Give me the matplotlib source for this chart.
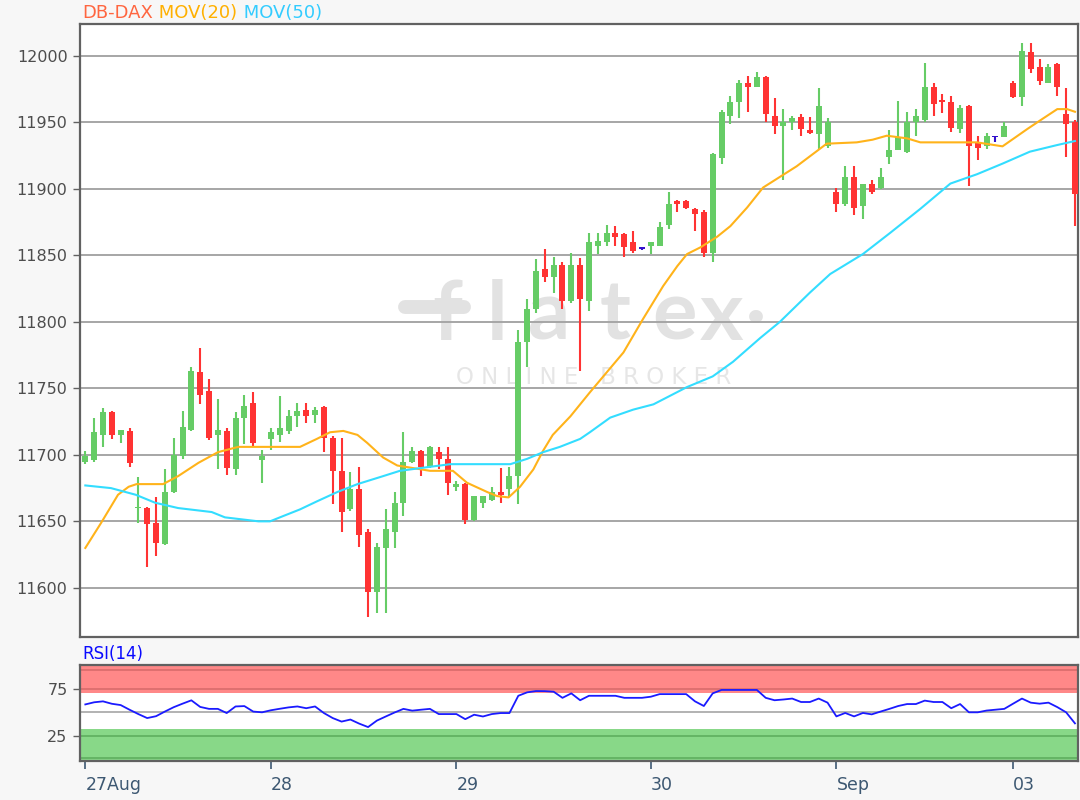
import matplotlib
matplotlib.use("Agg")
import matplotlib.pyplot as plt
import numpy as np

# OHLC candles, one per bar
opens = [11695, 11696, 11715, 11732, 11715, 11718, 11660, 11660, 11649, 11633,
         11672, 11699, 11719, 11762, 11748, 11715, 11718, 11689, 11728, 11739,
         11696, 11712, 11715, 11718, 11729, 11734, 11730, 11736, 11713, 11688,
         11659, 11674, 11642, 11597, 11630, 11642, 11664, 11695, 11703, 11691,
         11702, 11697, 11676, 11678, 11651, 11664, 11666, 11672, 11674, 11684,
         11785, 11810, 11840, 11834, 11843, 11816, 11843, 11816, 11857, 11860,
         11867, 11866, 11860, 11855, 11857, 11857, 11873, 11891, 11891, 11885,
         11883, 11852, 11923, 11955, 11965, 11980, 11977, 11984, 11955, 11947,
         11950, 11954, 11944, 11941, 11932, 11898, 11889, 11909, 11887, 11904,
         11901, 11924, 11929, 11928, 11950, 11952, 11977, 11967, 11965, 11945,
         11962, 11935, 11932, 11939, 11939, 11980, 11969, 12003, 11992, 11980,
         11994, 11956, 11950]
highs = [11703, 11728, 11735, 11733, 11719, 11720, 11683, 11661, 11668, 11689,
         11713, 11733, 11766, 11780, 11757, 11742, 11720, 11732, 11745, 11747,
         11704, 11720, 11744, 11734, 11739, 11739, 11736, 11737, 11714, 11713,
         11687, 11691, 11644, 11634, 11659, 11672, 11717, 11706, 11704, 11707,
         11706, 11706, 11680, 11679, 11669, 11669, 11676, 11690, 11691, 11794,
         11817, 11847, 11855, 11849, 11845, 11852, 11848, 11867, 11867, 11873,
         11872, 11867, 11868, 11856, 11860, 11875, 11898, 11892, 11892, 11886,
         11884, 11927, 11959, 11970, 11982, 11985, 11988, 11985, 11968, 11960,
         11955, 11956, 11954, 11976, 11953, 11901, 11917, 11917, 11904, 11907,
         11916, 11944, 11966, 11958, 11960, 11995, 11980, 11971, 11970, 11963,
         11963, 11940, 11942, 11940, 11950, 11981, 12010, 12010, 11998, 11994,
         11995, 11976, 11952]
lows = [11693, 11695, 11706, 11712, 11709, 11691, 11649, 11616, 11624, 11632,
        11671, 11697, 11718, 11738, 11711, 11689, 11685, 11685, 11708, 11706,
        11679, 11704, 11710, 11716, 11721, 11724, 11724, 11702, 11663, 11642,
        11658, 11631, 11578, 11581, 11581, 11630, 11654, 11694, 11684, 11690,
        11689, 11670, 11673, 11648, 11650, 11660, 11665, 11664, 11668, 11663,
        11766, 11807, 11830, 11822, 11810, 11814, 11763, 11808, 11851, 11857,
        11857, 11849, 11852, 11854, 11851, 11857, 11870, 11883, 11885, 11868,
        11849, 11845, 11919, 11949, 11953, 11958, 11977, 11950, 11941, 11907,
        11944, 11940, 11941, 11930, 11931, 11883, 11887, 11880, 11877, 11896,
        11900, 11919, 11929, 11927, 11940, 11950, 11955, 11957, 11943, 11942,
        11902, 11922, 11930, 11935, 11939, 11968, 11962, 11987, 11978, 11980,
        11970, 11924, 11872]
closes = [11699, 11717, 11732, 11715, 11719, 11694, 11661, 11648, 11634, 11672,
          11700, 11721, 11763, 11745, 11713, 11719, 11690, 11728, 11737, 11709,
          11699, 11717, 11720, 11729, 11733, 11729, 11734, 11713, 11688, 11657,
          11674, 11640, 11597, 11631, 11644, 11664, 11695, 11703, 11691, 11706,
          11697, 11679, 11678, 11651, 11669, 11669, 11672, 11670, 11684, 11785,
          11810, 11838, 11834, 11843, 11816, 11843, 11817, 11860, 11861, 11867,
          11864, 11856, 11853, 11855, 11860, 11871, 11889, 11889, 11886, 11881,
          11852, 11926, 11958, 11965, 11980, 11977, 11984, 11956, 11947, 11950,
          11953, 11945, 11942, 11962, 11950, 11889, 11909, 11886, 11904, 11898,
          11909, 11929, 11939, 11950, 11955, 11977, 11964, 11965, 11946, 11961,
          11932, 11931, 11940, 11939, 11947, 11969, 12004, 11990, 11981, 11992,
          11977, 11949, 11896]

# moving averages (bar index, value)
ma20_idx = [0, 1.8, 3.7, 4.9, 5.8, 8.8, 10.5, 12.8, 15.0, 17.3, 19.6, 24.3, 26.2,
            27.7, 29.2, 30.8, 31.9, 33.7, 35.3, 39.0, 41.6, 43.2, 45.5, 46.6,
            47.9, 49.2, 50.7, 51.8, 52.9, 54.9, 57.1, 60.9, 63.1, 65.4, 67.0,
            68.1, 69.6, 71.5, 73.0, 74.9, 76.7, 80.5, 83.9, 87.3, 89.1, 90.7,
            93.0, 94.5, 100.9, 103.8, 106.6, 108.4, 110.0, 111.1, 112.0]
ma20 = [11630, 11649, 11670, 11676, 11678, 11678, 11684, 11694, 11702, 11706,
        11706, 11706, 11712, 11717, 11718, 11715, 11709, 11698, 11692, 11688,
        11688, 11679, 11672, 11669, 11668, 11676, 11689, 11703, 11715, 11729,
        11747, 11777, 11802, 11827, 11842, 11851, 11856, 11864, 11872, 11886,
        11901, 11917, 11934, 11935, 11937, 11940, 11938, 11935, 11935, 11932,
        11945, 11953, 11960, 11960, 11958]
ma50_idx = [0, 2.9, 5.7, 7.9, 10.5, 14.3, 15.8, 19.6, 20.9, 22.4, 24.3, 26.2,
            28.5, 30.8, 33.7, 35.6, 39.0, 41.3, 48.1, 50.0, 51.8, 53.7, 56.0,
            57.1, 59.4, 62.0, 64.3, 68.1, 71.0, 73.3, 76.4, 78.6, 82.0, 84.3,
            88.0, 91.1, 94.5, 97.9, 100.9, 103.8, 106.9, 110.0, 112.0]
ma50 = [11677, 11675, 11670, 11664, 11660, 11657, 11653, 11650, 11650, 11654,
        11659, 11665, 11672, 11678, 11684, 11688, 11691, 11693, 11693, 11697,
        11702, 11706, 11712, 11717, 11728, 11734, 11738, 11751, 11759, 11770,
        11788, 11800, 11822, 11836, 11851, 11867, 11885, 11904, 11911, 11919,
        11928, 11933, 11936]

rsi = [58.7, 61, 62, 59.4, 58, 53, 48.3, 44, 46, 51,
       55.7, 59.5, 63.1, 56, 53.9, 53.9, 49.4, 56.5, 56.9, 51,
       50.2, 52.4, 54, 55.5, 56.5, 54.6, 56.5, 49.4, 44, 40.2,
       42.4, 38, 34.3, 41.3, 45.7, 50, 53.9, 52.0, 53, 53.9,
       48.3, 48.3, 48.3, 42.8, 47.6, 45.7, 48.3, 49.4, 49.4, 68.0,
       71.7, 73.1, 73, 72.4, 65.8, 70.6, 63.2, 68.0, 68, 68,
       68, 65.8, 65.8, 65.8, 67, 69.8, 69.8, 69.8, 69.8, 62,
       57, 70.6, 74.3, 74.3, 74.3, 74.3, 74.3, 65.8, 63.2, 64,
       65.0, 61.3, 61.3, 65.0, 60.6, 45.8, 49.5, 45.8, 49.5, 48.0,
       51, 53.9, 57, 59.1, 59.1, 62.8, 61.3, 61.3, 54.6, 59.1,
       50.2, 50.2, 52.1, 53, 53.9, 59.5, 65.0, 60.6, 59.5, 60.6,
       55.8, 50.2, 38.3]

day_pos = [0, 21, 42, 64, 85, 105]
day_labels = ["27Aug", "28", "29", "30", "Sep", "03"]
price_ticks = [11600, 11650, 11700, 11750, 11800, 11850, 11900, 11950, 12000]

GREEN = "#66cc66"
RED = "#ff3333"
DOJI = "#3311cc"
GRID = "#a6a6a6"
SPINE = "#616161"
WM = "#e2e2e2"

fig = plt.figure(figsize=(10.8, 8), dpi=100, facecolor="#f7f7f7")
ax = fig.add_axes([0.0741, 0.2037, 0.9241, 0.7663])
rax = fig.add_axes([0.0741, 0.0488, 0.9241, 0.1200])

o = np.array(opens, float)
h = np.array(highs, float)
l = np.array(lows, float)
c = np.array(closes, float)
x = np.arange(len(o))

colors = np.where(c > o, GREEN, np.where(c < o, RED, DOJI))

# watermark, letter by letter (sits under the grid)
wm_x = [0.368, 0.418, 0.470, 0.536, 0.596, 0.643]
for ch, xx in zip("flatex", wm_x):
    ax.text(xx, 0.485, ch, transform=ax.transAxes, fontsize=60, color=WM,
            family="Lato", weight="bold", ha="center", va="baseline", zorder=0)
ax.text(0.677, 0.515, "\u2022", transform=ax.transAxes, fontsize=34,
        color=WM, ha="center", va="center", zorder=0)
ax.plot([0.326, 0.385], [0.538, 0.538], transform=ax.transAxes, color=WM,
        lw=10, solid_capstyle="round", zorder=0)
ax.text(0.515, 0.424, "O N L I N E   B R O K E R", transform=ax.transAxes,
        fontsize=16.5, color="#e6e6e6", family="DejaVu Sans",
        ha="center", va="center", zorder=0)

# grid lines
for p in price_ticks:
    ax.axhline(p, color=GRID, lw=1.4, zorder=1)

# candles
ax.vlines(x, l, h, color=colors, lw=1.5, zorder=2)
body_bot = np.minimum(o, c)
body_h = np.maximum(np.abs(c - o), 1.0)
ax.bar(x, body_h, bottom=body_bot, width=0.68, color=colors, lw=0, zorder=3)

ax.plot(ma20_idx, ma20, color="#ffb31a", lw=1.5, zorder=4)
ax.plot(ma50_idx, ma50, color="#33ddff", lw=1.5, zorder=4)

ax.set_xlim(-0.6, 112.35)
ax.set_ylim(11563, 12024)
ax.set_yticks(price_ticks)
ax.set_xticks([])
ax.tick_params(axis="y", length=5, width=1, color=SPINE, labelsize=11.5,
               labelcolor="#4d4d4d", pad=4)
for s in ax.spines.values():
    s.set_color(SPINE)
    s.set_linewidth(1.6)

# RSI panel
rax.axhspan(70.8, 102, color="#ff8888", lw=0, zorder=0)
rax.axhspan(-3, 32.5, color="#88d888", lw=0, zorder=0)
for v in (96, 75.5):
    rax.axhline(v, color="#d96c6c", lw=1.2, zorder=1)
for v in (25, 1.2):
    rax.axhline(v, color="#5fae5f", lw=1.2, zorder=1)
rax.axhline(50, color=GRID, lw=1.2, zorder=1)
rax.plot(x, rsi, color="#1a1aff", lw=1.3, zorder=3)
rax.set_xlim(-0.6, 112.35)
rax.set_ylim(-2.2, 101.2)
rax.set_yticks([25, 75])
rax.set_xticks(day_pos)
rax.set_xticklabels(day_labels, ha="left")
rax.tick_params(axis="y", length=5, width=1, color=SPINE, labelsize=11.5,
                labelcolor="#4d4d4d", pad=4)
rax.tick_params(axis="x", length=6, width=1.2, color="#3d5872", labelsize=12.5,
                labelcolor="#3d5872", pad=5)
for s in rax.spines.values():
    s.set_color(SPINE)
    s.set_linewidth(1.6)

# titles
t1 = fig.text(0.0765, 0.984, "DB-DAX", color="#ff6640", fontsize=13, va="center")
t2 = ax.annotate(" MOV(20)", xy=(1, 0), xycoords=t1, va="bottom",
                 color="#ffb000", fontsize=13, annotation_clip=False)
ax.annotate(" MOV(50)", xy=(1, 0), xycoords=t2, va="bottom",
            color="#33ccff", fontsize=13, annotation_clip=False)
fig.text(0.0765, 0.1825, "RSI(14)", color="#0a0aff", fontsize=12, va="center")

fig.savefig("out.png", dpi=100, facecolor=fig.get_facecolor())
